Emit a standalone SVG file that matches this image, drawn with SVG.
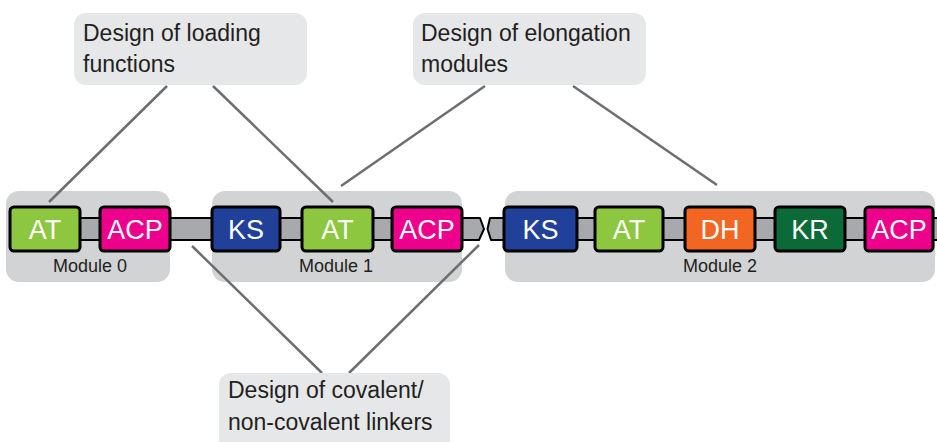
<svg xmlns="http://www.w3.org/2000/svg" width="937" height="442" viewBox="0 0 937 442">
<style>
.mod{fill:#d1d3d4}
.call{fill:#e6e7e8}
.calltxt{font-family:"Liberation Sans",Arial,sans-serif;font-size:23px;fill:#231f20}
.modtxt{font-family:"Liberation Sans",Arial,sans-serif;font-size:18px;fill:#231f20;text-anchor:middle}
.dom{stroke:#000;stroke-width:3;stroke-linejoin:round}
.domtxt{font-family:"Liberation Sans",Arial,sans-serif;font-size:27px;fill:#fff;text-anchor:middle}
.link{fill:#a7a9ac;stroke:#000;stroke-width:2;stroke-linejoin:round}
.conn{stroke:#6d6e71;stroke-width:2.5;fill:none}
</style>
<rect width="937" height="442" fill="#fff"/>
<g id="module0"><rect class="mod" x="6" y="191" width="164" height="91" rx="13"/><text class="modtxt" x="90" y="272">Module 0</text></g>
<g id="module1"><rect class="mod" x="212" y="191" width="250" height="91" rx="13"/><text class="modtxt" x="336" y="272">Module 1</text></g>
<g id="module2"><rect class="mod" x="505" y="191" width="430" height="91" rx="13"/><text class="modtxt" x="720" y="272">Module 2</text></g>
<g id="linkers">
<path class="link" d="M78,218 L480,218 L484,229 L479,240 L78,240 Z"/>
<path class="link" d="M490,218 L940,218 L940,240 L491,240 L487.5,229 Z"/>
</g>
<g id="m0-AT"><rect class="dom" x="10" y="207" width="70" height="44" rx="4" fill="#8dc63f"/><text class="domtxt" x="45" y="239">AT</text></g>
<g id="m0-ACP"><rect class="dom" x="100" y="207" width="70" height="44" rx="4" fill="#ec008c"/><text class="domtxt" x="135" y="239">ACP</text></g>
<g id="m1-KS"><rect class="dom" x="212" y="207" width="68" height="44" rx="4" fill="#21409a"/><text class="domtxt" x="246" y="239">KS</text></g>
<g id="m1-AT"><rect class="dom" x="302" y="207" width="71" height="44" rx="4" fill="#8dc63f"/><text class="domtxt" x="337.5" y="239">AT</text></g>
<g id="m1-ACP"><rect class="dom" x="392" y="207" width="70" height="44" rx="4" fill="#ec008c"/><text class="domtxt" x="427" y="239">ACP</text></g>
<g id="m2-KS"><rect class="dom" x="504" y="207" width="73" height="44" rx="4" fill="#21409a"/><text class="domtxt" x="540.5" y="239">KS</text></g>
<g id="m2-AT"><rect class="dom" x="595" y="207" width="68" height="44" rx="4" fill="#8dc63f"/><text class="domtxt" x="629" y="239">AT</text></g>
<g id="m2-DH"><rect class="dom" x="685" y="207" width="70" height="44" rx="4" fill="#f26522"/><text class="domtxt" x="720" y="239">DH</text></g>
<g id="m2-KR"><rect class="dom" x="775" y="207" width="70" height="44" rx="4" fill="#0b6a38"/><text class="domtxt" x="810" y="239">KR</text></g>
<g id="m2-ACP"><rect class="dom" x="865" y="207" width="68" height="44" rx="4" fill="#ec008c"/><text class="domtxt" x="899" y="239">ACP</text></g>
<g id="connectors">
<line class="conn" x1="167" y1="86" x2="49" y2="202"/>
<line class="conn" x1="213" y1="86" x2="333" y2="202"/>
<line class="conn" x1="485" y1="86" x2="341" y2="186"/>
<line class="conn" x1="573" y1="86" x2="717" y2="185"/>
<line class="conn" x1="192" y1="246" x2="322" y2="373"/>
<line class="conn" x1="479" y1="245" x2="349" y2="373"/>
</g>
<g id="callout-loading"><rect class="call" x="74" y="13" width="233" height="72" rx="12"/><text class="calltxt" x="83" y="41">Design of loading</text><text class="calltxt" x="83" y="72">functions</text></g>
<g id="callout-elongation"><rect class="call" x="413" y="13" width="233" height="72" rx="12"/><text class="calltxt" x="421" y="41">Design of elongation</text><text class="calltxt" x="421" y="72">modules</text></g>
<g id="callout-linkers"><rect class="call" x="219" y="373" width="231" height="80" rx="12"/><text class="calltxt" x="228" y="398">Design of covalent/</text><text class="calltxt" x="228" y="430">non-covalent linkers</text></g>
</svg>
